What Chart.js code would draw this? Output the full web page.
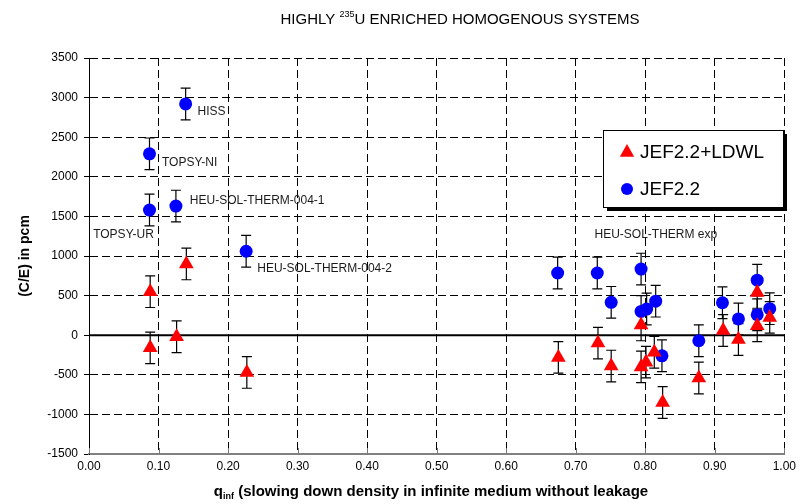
<!DOCTYPE html>
<html>
<head>
<meta charset="utf-8">
<title>Highly 235U enriched homogenous systems</title>
<script src="https://cdn.jsdelivr.net/npm/chart.js@4.4.1/dist/chart.umd.min.js"></script>
<style>
  html, body { margin: 0; padding: 0; background: #fff; }
  #wrap { width: 801px; height: 504px; }
</style>
</head>
<body>
<div id="wrap"><canvas id="ce" width="801" height="504"></canvas></div>
<script>
// JEF2.2+LDWL: q_inf, C/E in pcm and the +/- uncertainty
const ldwlQ   = [0.088, 0.088, 0.126, 0.140, 0.227, 0.675, 0.732, 0.751, 0.794, 0.794, 0.801, 0.813, 0.825, 0.877, 0.912, 0.934, 0.961, 0.961, 0.979];
const ldwlCE  = [550, -160, -20, 900, -470, -280, -100, -390, 130, -400, -340, -215, -850, -540, 60, -55, 540, 120, 225];
const ldwlErr = [200, 200, 200, 200, 200, 200, 200, 200, 200, 200, 200, 200, 200, 200, 200, 200, 200, 200, 200];

// JEF2.2
const jefQ   = [0.139, 0.087, 0.125, 0.087, 0.226, 0.674, 0.731, 0.751, 0.794, 0.794, 0.802, 0.815, 0.824, 0.877, 0.911, 0.934, 0.961, 0.961, 0.979];
const jefCE  = [2920, 2290, 1630, 1580, 1060, 785, 785, 415, 835, 300, 330, 430, -260, -70, 410, 205, 695, 258, 335];
const jefErr = [200, 200, 200, 200, 200, 200, 200, 200, 200, 200, 200, 200, 200, 200, 200, 200, 200, 200, 200];

const xTickLabels = ['0.00', '0.10', '0.20', '0.30', '0.40', '0.50', '0.60', '0.70', '0.80', '0.90', '1.00'];
const yTickLabels = ['-1500', '-1000', '-500', '0', '500', '1000', '1500', '2000', '2500', '3000', '3500'];

// experiment names written beside the points (anchored in data units)
const noteText = ['HISS', 'TOPSY-NI', 'HEU-SOL-THERM-004-1', 'TOPSY-UR', 'HEU-SOL-THERM-004-2', 'HEU-SOL-THERM exp'];
const noteQ    = [0.156, 0.105, 0.145, 0.006, 0.242, 0.727];
const noteCE   = [2820, 2180, 1700, 1270, 840, 1265];

const RED = '#ff0000';
const BLUE = '#0000ff';
const FONT = '"Liberation Sans", Arial, sans-serif';

function points(q, ce, err) {
    return q.map((v, i) => ({ x: v, y: ce[i], err: err[i] }));
}

function drawMarker(ctx, style, x, y, r) {
    ctx.beginPath();
    if (style === 'triangle') {
        ctx.moveTo(x, y - r);
        ctx.lineTo(x + r * 0.9, y + r * 0.6);
        ctx.lineTo(x - r * 0.9, y + r * 0.6);
        ctx.closePath();
    } else {
        ctx.arc(x, y, r, 0, Math.PI * 2);
    }
    ctx.fill();
}

const decorations = {
    id: 'decorations',
    beforeDatasetsDraw(chart) {
        const { ctx, chartArea: a, scales: { x, y } } = chart;
        ctx.save();

        // heavy line at C/E = 0
        const y0 = y.getPixelForValue(0);
        ctx.strokeStyle = '#000';
        ctx.lineWidth = 2;
        ctx.beginPath();
        ctx.moveTo(a.left, y0);
        ctx.lineTo(a.right, y0);
        ctx.stroke();

        // short inward ticks on the q axis
        ctx.strokeStyle = '#777';
        ctx.lineWidth = 1;
        x.ticks.forEach(t => {
            const px = Math.round(x.getPixelForValue(t.value)) + 0.5;
            ctx.beginPath();
            ctx.moveTo(px, a.bottom);
            ctx.lineTo(px, a.bottom - 6);
            ctx.stroke();
        });

        // error bars behind the markers
        ctx.strokeStyle = '#000';
        ctx.lineWidth = 1.2;
        chart.data.datasets.forEach(ds => {
            ds.data.forEach(p => {
                const px = x.getPixelForValue(p.x);
                const top = y.getPixelForValue(p.y + p.err);
                const bot = y.getPixelForValue(p.y - p.err);
                ctx.beginPath();
                ctx.moveTo(px, top);
                ctx.lineTo(px, bot);
                ctx.moveTo(px - 5, top);
                ctx.lineTo(px + 5, top);
                ctx.moveTo(px - 5, bot);
                ctx.lineTo(px + 5, bot);
                ctx.stroke();
            });
        });
        ctx.restore();
    },
    afterDraw(chart) {
        const { ctx, chartArea: a, scales: { x, y } } = chart;
        ctx.save();
        ctx.fillStyle = '#000';
        ctx.textBaseline = 'alphabetic';

        // title with superscript mass number
        const t1 = 'HIGHLY ', sup = '235', t2 = 'U ENRICHED HOMOGENOUS SYSTEMS';
        const big = '15px ' + FONT, small = '9px ' + FONT;
        ctx.font = big;
        const w1 = ctx.measureText(t1).width, w2 = ctx.measureText(t2).width;
        ctx.font = small;
        const ws = ctx.measureText(sup).width;
        let tx = 460 - (w1 + ws + w2) / 2;
        ctx.font = big;
        ctx.fillText(t1, tx, 24);
        tx += w1;
        ctx.font = small;
        ctx.fillText(sup, tx, 17);
        tx += ws;
        ctx.font = big;
        ctx.fillText(t2, tx, 24);

        // q axis title with subscript
        const q = 'q', sub = 'inf', rest = ' (slowing down density in infinite medium without leakage';
        const bold = 'bold 15px ' + FONT, boldSmall = 'bold 9px ' + FONT;
        ctx.font = bold;
        const wq = ctx.measureText(q).width, wr = ctx.measureText(rest).width;
        ctx.font = boldSmall;
        const wsub = ctx.measureText(sub).width;
        let ax = 431 - (wq + wsub + wr) / 2;
        ctx.font = bold;
        ctx.fillText(q, ax, 496);
        ax += wq;
        ctx.font = boldSmall;
        ctx.fillText(sub, ax, 499);
        ax += wsub;
        ctx.font = bold;
        ctx.fillText(rest, ax, 496);

        // C/E axis title
        ctx.save();
        ctx.translate(25, 256);
        ctx.rotate(-Math.PI / 2);
        ctx.textAlign = 'center';
        ctx.textBaseline = 'middle';
        ctx.font = 'bold 14px ' + FONT;
        ctx.fillText('(C/E) in pcm', 0, 0);
        ctx.restore();

        // experiment names
        ctx.font = '12px ' + FONT;
        ctx.fillStyle = '#1a1a1a';
        ctx.textBaseline = 'middle';
        noteText.forEach((s, i) => {
            ctx.fillText(s, x.getPixelForValue(noteQ[i]), y.getPixelForValue(noteCE[i]));
        });

        // legend box with drop shadow
        const lx = 603, ly = 130, lw = 180, lh = 77;
        ctx.fillStyle = '#000';
        ctx.fillRect(lx + 4, ly + 4, lw, lh);
        ctx.fillStyle = '#fff';
        ctx.fillRect(lx, ly, lw, lh);
        ctx.strokeStyle = '#000';
        ctx.lineWidth = 1;
        ctx.strokeRect(lx + 0.5, ly + 0.5, lw, lh);
        ctx.font = '19px ' + FONT;
        chart.data.datasets.forEach((ds, i) => {
            const cy = ly + 22 + i * 37;
            ctx.fillStyle = ds.backgroundColor;
            drawMarker(ctx, ds.pointStyle, lx + 24, cy, ds.pointStyle === 'triangle' ? 8 : 6);
            ctx.fillStyle = '#000';
            ctx.fillText(ds.label, lx + 37, cy + 1);
        });
        ctx.restore();
    }
};

new Chart(document.getElementById('ce'), {
    type: 'scatter',
    data: {
        datasets: [
            {
                label: 'JEF2.2+LDWL',
                data: points(ldwlQ, ldwlCE, ldwlErr),
                pointStyle: 'triangle',
                radius: 8.5,
                backgroundColor: RED,
                borderColor: RED,
                borderWidth: 0
            },
            {
                label: 'JEF2.2',
                data: points(jefQ, jefCE, jefErr),
                pointStyle: 'circle',
                radius: 6.5,
                backgroundColor: BLUE,
                borderColor: BLUE,
                borderWidth: 0
            }
        ]
    },
    options: {
        responsive: false,
        animation: false,
        devicePixelRatio: 1,
        layout: { padding: { top: 58, right: 14, left: 0, bottom: 0 } },
        plugins: {
            legend: { display: false },
            title: { display: false },
            tooltip: { enabled: false }
        },
        elements: { point: { hoverRadius: 6 } },
        scales: {
            x: {
                type: 'linear',
                min: 0,
                max: 1,
                afterFit: s => { s.height = 50; },
                ticks: {
                    stepSize: 0.1,
                    padding: 5,
                    color: '#000',
                    font: { family: FONT, size: 12 },
                    callback: (v, i) => xTickLabels[i]
                },
                grid: { color: '#000', lineWidth: 1, drawTicks: false },
                border: { color: '#808080', width: 2, dash: [8, 4] }
            },
            y: {
                type: 'linear',
                min: -1500,
                max: 3500,
                afterFit: s => { s.width = 89; },
                ticks: {
                    stepSize: 500,
                    padding: 6,
                    color: '#000',
                    font: { family: FONT, size: 12 },
                    callback: (v, i) => yTickLabels[i]
                },
                grid: { color: '#000', lineWidth: 1, tickLength: 5, tickColor: '#000' },
                border: { color: '#000', width: 1, dash: [8, 4] }
            }
        }
    },
    plugins: [decorations]
});
</script>
</body>
</html>
